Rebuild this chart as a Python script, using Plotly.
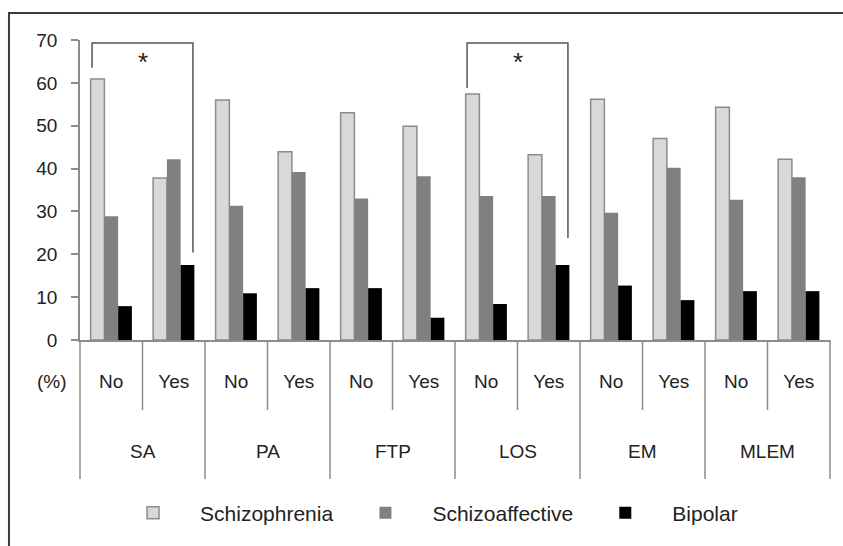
import plotly.graph_objects as go

groups = ["SA", "PA", "FTP", "LOS", "EM", "MLEM"]
levels = ["No", "Yes"]
schizophrenia = [60.9, 37.8, 56.0, 43.9, 53.0, 49.9, 57.4, 43.2, 56.2, 47.0, 54.3, 42.2]
schizoaffective = [28.9, 42.2, 31.3, 39.2, 33.0, 38.2, 33.6, 33.6, 29.7, 40.2, 32.7, 38.0]
bipolar = [7.9, 17.5, 10.9, 12.1, 12.1, 5.2, 8.4, 17.5, 12.7, 9.3, 11.4, 11.4]
y_ticks = [0, 10, 20, 30, 40, 50, 60, 70]
# significance brackets: (left index, right index, left leg end, top, right leg end, label)
brackets = [(0, 1, 63.5, 69.3, 20.4, "*"), (6, 7, 58.8, 69.3, 23.8, "*")]

n = len(groups) * len(levels)
xs = list(range(n))
sub_labels = [lv for g in groups for lv in levels]

FONT = "Liberation Sans, Arial, sans-serif"
TXT = "#222222"
AX = "#8c8c8c"
FS = 19

fig = go.Figure()
fig.add_trace(go.Bar(x=xs, y=schizophrenia, name="Schizophrenia",
                     marker=dict(color="#d9d9d9", line=dict(color="#8c8c8c", width=1.5))))
fig.add_trace(go.Bar(x=xs, y=schizoaffective, name="Schizoaffective",
                     marker=dict(color="#808080", line=dict(width=0))))
fig.add_trace(go.Bar(x=xs, y=bipolar, name="Bipolar",
                     marker=dict(color="#000000", line=dict(width=0))))

shapes = []
# separators below the axis
for k in range(n + 1):
    xp = k / n
    y_end = -0.4633 if k % len(levels) == 0 else -0.2333
    shapes.append(dict(type="line", xref="paper", yref="paper", x0=xp, x1=xp,
                       y0=0, y1=y_end, line=dict(color=AX, width=1.5)))
# brackets
off = 0.307
annotations = []
for (i0, i1, yl, yt, yr, lab) in brackets:
    xa, xb = i0 - off, i1 + off
    shapes.append(dict(type="path", xref="x", yref="y",
                       path=f"M {xa},{yl} L {xa},{yt} L {xb},{yt} L {xb},{yr}",
                       line=dict(color="#555555", width=1.5)))
    annotations.append(dict(x=(i0 + i1) / 2, y=64.9, xref="x", yref="y", text=lab,
                            showarrow=False, xanchor="center", yanchor="middle",
                            font=dict(size=26, color=TXT, family=FONT)))
# outer border (open to the right and bottom, beyond the page)
shapes.append(dict(type="rect", xref="paper", yref="paper", x0=-0.0947, y0=-0.8,
                   x1=1.1, y1=1.09, line=dict(color="#3a3a3a", width=2)))

for gi, g in enumerate(groups):
    annotations.append(dict(x=gi * len(levels) + 0.5, y=-0.373, xref="x", yref="paper",
                            text=g, showarrow=False, xanchor="center", yanchor="middle",
                            font=dict(size=FS, color=TXT, family=FONT)))
annotations.append(dict(x=-0.0373, y=-0.137, xref="paper", yref="paper", text="(%)",
                        showarrow=False, xanchor="center", yanchor="middle",
                        font=dict(size=FS, color=TXT, family=FONT)))

fig.update_layout(
    width=843, height=546,
    margin=dict(l=80, r=13, t=40, b=206),
    paper_bgcolor="white", plot_bgcolor="white",
    barmode="group", bargap=0.34, bargroupgap=0,
    font=dict(family=FONT, size=FS, color=TXT),
    showlegend=True,
    legend=dict(orientation="h", x=0.0347, xanchor="left", y=-0.577, yanchor="middle",
                font=dict(size=21, color=TXT, family=FONT), itemwidth=84,
                traceorder="normal"),
    shapes=shapes, annotations=annotations,
)
fig.update_xaxes(range=[-0.5, n - 0.5], tickvals=xs, ticktext=sub_labels,
                 showline=True, linecolor=AX, linewidth=1.5, showgrid=False,
                 zeroline=False, ticks="", ticklabelstandoff=23,
                 tickfont=dict(size=FS, color=TXT, family=FONT))
fig.update_yaxes(range=[0, 70], tickvals=y_ticks, showline=True, linecolor=AX,
                 linewidth=1.5, showgrid=False, zeroline=False, ticks="outside",
                 ticklen=7, tickwidth=1.5, tickcolor=AX, ticklabelstandoff=10,
                 tickfont=dict(size=FS, color=TXT, family=FONT))

fig.write_html("out.html", config={"displayModeBar": False},
               post_script="document.body.style.margin='0';"
                           "document.body.style.overflow='hidden';")
